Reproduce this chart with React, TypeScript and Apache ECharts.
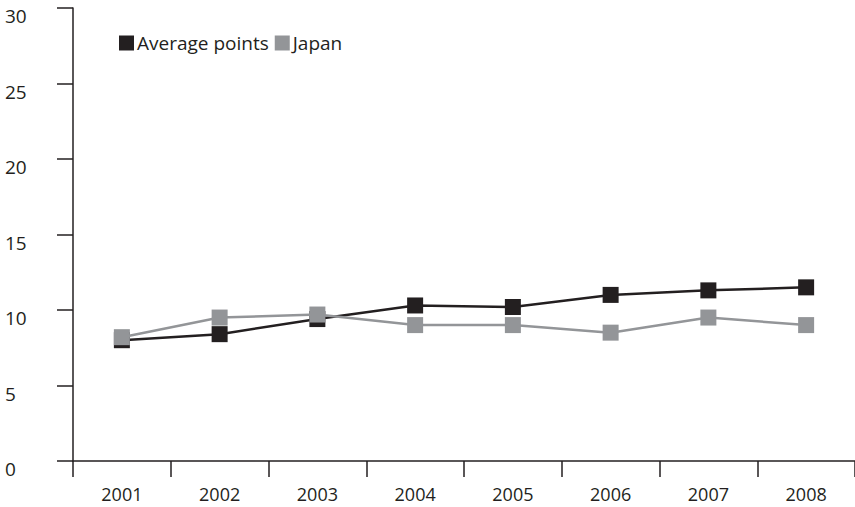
import React, { useEffect, useRef } from "react";
import * as echarts from "echarts";

const years = ["2001", "2002", "2003", "2004", "2005", "2006", "2007", "2008"];
const averagePoints = [8.0, 8.4, 9.4, 10.3, 10.2, 11.0, 11.3, 11.5];
const japan = [8.2, 9.5, 9.7, 9.0, 9.0, 8.5, 9.5, 9.0];
const seriesNames = ["Average points", "Japan"];

const FONT = "'Open Sans', Lato, sans-serif";
const DARK = "#231f20";
const GRAY = "#939598";

export default function App() {
  const ref = useRef<HTMLDivElement>(null);
  useEffect(() => {
    if (!ref.current) return;
    const chart = echarts.init(ref.current, undefined, { renderer: "svg" });
    chart.setOption({
      animation: false,
      backgroundColor: "#ffffff",
      textStyle: { fontFamily: FONT },
      grid: { left: 73, top: 8, width: 786, bottom: 46, containLabel: false },
      legend: {
        left: 114,
        top: 26,
        icon: "rect",
        itemWidth: 15,
        itemHeight: 15,
        itemGap: 6,
        textStyle: { fontFamily: FONT, fontSize: 19, lineHeight: 24, color: DARK, padding: [0, 0, 0, -2] },
        data: seriesNames,
      },
      xAxis: {
        type: "category",
        data: years,
        boundaryGap: true,
        axisLine: { show: true, lineStyle: { color: DARK, width: 1.5 } },
        axisTick: { show: true, length: 16, lineStyle: { color: DARK, width: 1.5 } },
        axisLabel: { color: DARK, fontSize: 18, lineHeight: 16, fontFamily: FONT, margin: 25 },
        splitLine: { show: false },
      },
      yAxis: {
        type: "value",
        min: 0,
        max: 30,
        interval: 5,
        axisLine: { show: true, lineStyle: { color: DARK, width: 1.5 } },
        axisTick: { show: true, length: 16, lineStyle: { color: DARK, width: 1.5 } },
        axisLabel: {
          color: DARK,
          fontSize: 19,
          lineHeight: 16,
          fontFamily: FONT,
          margin: 68,
          align: "left",
          verticalAlign: "top",
        },
        splitLine: { show: false },
      },
      series: [
        {
          name: seriesNames[0],
          type: "line",
          data: averagePoints,
          symbol: "rect",
          symbolSize: 16,
          itemStyle: { color: DARK },
          lineStyle: { color: DARK, width: 2.5 },
          z: 2,
        },
        {
          name: seriesNames[1],
          type: "line",
          data: japan,
          symbol: "rect",
          symbolSize: 16,
          itemStyle: { color: GRAY },
          lineStyle: { color: GRAY, width: 2.5 },
          z: 3,
        },
      ],
    });
    return () => chart.dispose();
  }, []);
  return <div ref={ref} style={{ width: 855, height: 507, position: "absolute", left: 0, top: 0 }} />;
}
